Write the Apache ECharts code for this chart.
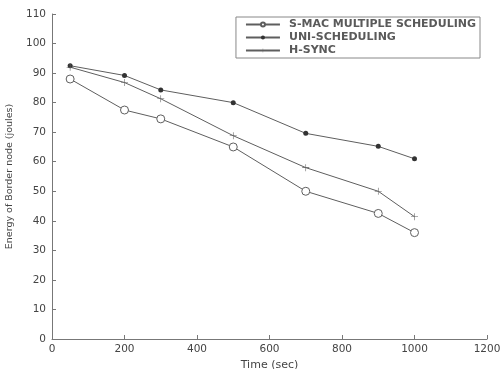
<!DOCTYPE html>
<html><head><meta charset="utf-8">
<script src="https://cdn.jsdelivr.net/npm/echarts@6/dist/echarts.min.js"></script>
<style>html,body{margin:0;padding:0;background:#fff}#c{width:500px;height:369px}</style>
</head><body><div id="c"></div>
<script>
var times = [50, 200, 300, 500, 700, 900, 1000];
var smac = [88, 77.5, 74.5, 65, 50, 42.5, 36];
var uni = [92.5, 89.2, 84.3, 80, 69.6, 65.2, 61];
var hsync = [92, 86.8, 81.3, 68.8, 58, 50, 41.4];
var seriesNames = ['S-MAC MULTIPLE SCHEDULING', 'UNI-SCHEDULING', 'H-SYNC'];
var xTicks = [0, 200, 400, 600, 800, 1000, 1200];
var yTicks = [0, 10, 20, 30, 40, 50, 60, 70, 80, 90, 100, 110];

function pairs(v){ return times.map(function(t,i){return [t, v[i]];}); }
var plus = 'path://M4.6,0H5.4V4.6H10V5.4H5.4V10H4.6V5.4H0V4.6H4.6Z';
var lineColor = '#5e5e5e';
var wide = 'DejaVu Sans, Verdana, sans-serif';
var chart = echarts.init(document.getElementById('c'));
chart.setOption({
  animation: false,
  textStyle: {fontFamily: wide},
  grid: {left: 52, right: 13, top: 14, bottom: 30, show: false, containLabel: false, outerBoundsMode: 'none'},
  legend: {
    orient: 'vertical', right: 20, top: 17,
    data: seriesNames,
    borderColor: '#888', borderWidth: 1, borderRadius: 0,
    padding: [1, 4, 1, 9], itemGap: 0, itemWidth: 34, itemHeight: 5,
    textStyle: {fontSize: 11, fontWeight: 'bold', color: '#5a5a5a', fontFamily: wide, padding: [0,0,0,4], lineHeight: 13}
  },
  xAxis: {
    type: 'value', min: 0, max: 1200, interval: 200,
    name: 'Time (sec)', nameLocation: 'middle', nameGap: 16,
    nameTextStyle: {fontSize: 11, color: '#444', fontFamily: wide},
    axisLine: {lineStyle: {color: '#777'}},
    axisTick: {inside: true, length: 4, lineStyle: {color: '#777'}},
    axisLabel: {fontSize: 10.5, color: '#444', margin: 5, fontFamily: wide,
      formatter: function(v){ return xTicks.indexOf(v) >= 0 ? String(v) : ''; }},
    splitLine: {show: false}
  },
  yAxis: {
    type: 'value', min: 0, max: 110, interval: 10,
    name: 'Energy of Border node (joules)', nameLocation: 'middle', nameGap: 37,
    nameTextStyle: {fontSize: 9.5, color: '#444', fontFamily: wide},
    axisLine: {show: true, lineStyle: {color: '#777'}},
    axisTick: {show: true, inside: true, length: 4, lineStyle: {color: '#777'}},
    axisLabel: {fontSize: 10.5, color: '#444', margin: 6, fontFamily: wide,
      formatter: function(v){ return yTicks.indexOf(v) >= 0 ? String(v) : ''; }},
    splitLine: {show: false}
  },
  series: [
    {name: seriesNames[0], type: 'line', data: pairs(smac), symbol: 'circle', symbolSize: 8,
     itemStyle: {color: '#fff', borderColor: lineColor, borderWidth: 1},
     lineStyle: {color: lineColor, width: 1}},
    {name: seriesNames[1], type: 'line', data: pairs(uni), symbol: 'circle', symbolSize: 5,
     itemStyle: {color: '#333'}, lineStyle: {color: lineColor, width: 1}},
    {name: seriesNames[2], type: 'line', data: pairs(hsync), symbol: plus, symbolSize: 7,
     itemStyle: {color: lineColor}, lineStyle: {color: lineColor, width: 1}}
  ]
});
</script></body></html>
